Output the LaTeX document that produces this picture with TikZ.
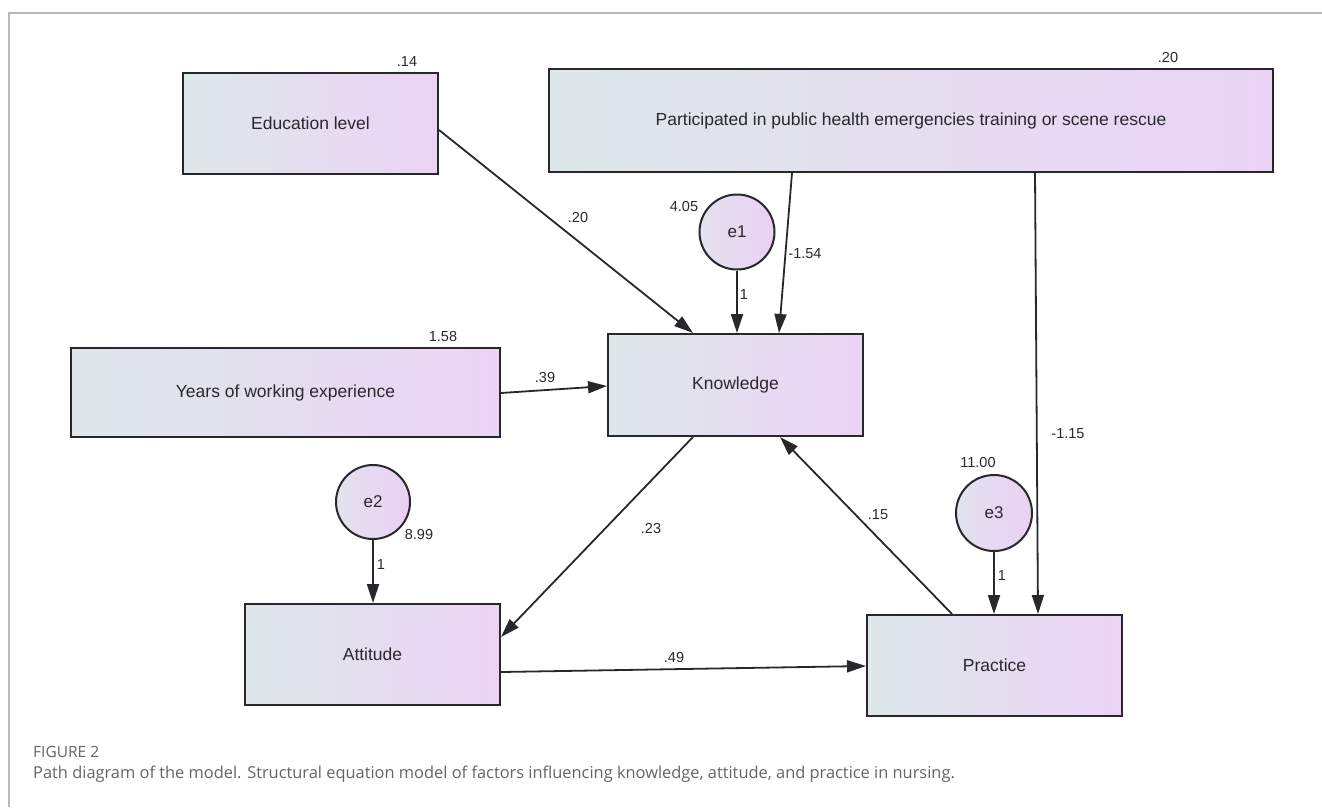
\documentclass[tikz,border=0pt]{standalone}
\usepackage{fontspec}
\setmainfont{Liberation Sans}
\newfontfamily\capfont{Open Sans}
\usetikzlibrary{arrows.meta,calc}
\definecolor{boxL}{RGB}{222,232,234}
\definecolor{boxR}{RGB}{235,211,245}
\definecolor{cirL}{RGB}{226,226,238}
\definecolor{cirR}{RGB}{234,208,244}
\definecolor{edgeC}{RGB}{40,40,44}
\definecolor{txtC}{RGB}{40,40,45}
\definecolor{frameC}{RGB}{185,185,185}
\definecolor{capC}{RGB}{100,100,100}
\tikzset{
  varbox/.style={draw=edgeC, line width=2pt, rectangle, left color=boxL, right color=boxR,
    inner sep=0pt, font=\fontsize{17.5}{20}\selectfont, text=txtC},
  errc/.style={draw=edgeC, line width=2pt, circle, left color=cirL, right color=cirR,
    inner sep=0pt, font=\fontsize{17}{19}\selectfont, text=txtC},
  path/.style={draw=edgeC, line width=1.8pt, -{Triangle[length=19pt,width=12pt]}},
  num/.style={inner sep=0pt, font=\fontsize{14.5}{16}\selectfont, text=txtC},
}
\begin{document}
\begin{tikzpicture}[x=1pt,y=-1pt]
\useasboundingbox (0,0) rectangle (1322,807);
% frame
\draw[frameC, line width=1.5pt] (9,807) -- (9,13) -- (1322,13);

% variable boxes
\node[varbox, minimum width=255pt, minimum height=101pt] (edu) at (310.5,123.5) {Education level};
\node[varbox, minimum width=724pt, minimum height=103pt] (part) at (911,120.5) {Participated in public health emergencies training or scene rescue};
\node[varbox, minimum width=255pt, minimum height=102pt] (know) at (735.5,385) {Knowledge};
\node[varbox, minimum width=429pt, minimum height=89pt] (years) at (285.5,392.5) {Years of working experience};
\node[varbox, minimum width=255pt, minimum height=101pt] (att) at (372.5,654.5) {Attitude};
\node[varbox, minimum width=255pt, minimum height=101pt] (prac) at (994.5,665.5) {Practice};

% error terms
\node[errc, minimum size=75pt] (e1) at (737,232) {e1};
\node[errc, minimum size=74pt] (e2) at (373,502) {e2};
\node[errc, minimum size=76pt] (e3) at (994,513) {e3};

% paths
\draw[path] ([yshift=-6.5pt]edu.east) -- ([xshift=-42.5pt]know.north);
\draw[path] ([xshift=-119pt]part.south) -- ([xshift=43.5pt]know.north);
\draw[path] (e1.south) -- (e1.south |- know.north);
\draw[path] ([yshift=-0.5pt]years.east) -- ([yshift=-1pt]know.west);
\draw[path] ([xshift=-42.5pt]know.south) -- ([yshift=17.5pt]att.east);
\draw[path] ([xshift=-42.5pt]prac.north) -- ([xshift=44.5pt]know.south);
\draw[path] ([yshift=-17.5pt]att.east) -- ([yshift=-0.5pt]prac.west);
\draw[path] (e2.south) -- (e2.south |- att.north);
\draw[path] (e3.south) -- (e3.south |- prac.north);
\draw[path] ([xshift=124pt]part.south) -- ([xshift=43.5pt]prac.north);

% path coefficients
\node[num] (l20) at (578,218) {.20};
\node[num] (l154) at (805,254) {-1.54};
\node[num] (l1a) at (744,295) {1};
\node[num] (l39) at (545,377) {.39};
\node[num] (l23) at (651,528) {.23};
\node[num] (l15) at (878,515) {.15};
\node[num] (l115) at (1068,434) {-1.15};
\node[num] (l49) at (674,657) {.49};
\node[num] (l1b) at (381,564) {1};
\node[num] (l1c) at (1002,575) {1};

% variances / R2
\node[num] (v14) at (407,62) {.14};
\node[num] (v20) at (1168,58) {.20};
\node[num] (v158) at (443,336) {1.58};
\node[num] (v405) at (684,207) {4.05};
\node[num] (v899) at (419,534) {8.99};
\node[num] (v1100) at (978,462) {11.00};

% caption
\node[anchor=base west, inner sep=0pt, font=\capfont\fontsize{15.5}{16}\selectfont, text=capC] (figlab) at (33,757) {FIGURE 2};
\node[anchor=base west, inner sep=0pt, font=\capfont\fontsize{16.4}{19}\selectfont, text=capC] (cap) at (33,778) {Path diagram of the model. Structural equation model of factors influencing knowledge, attitude, and practice in nursing.};
\end{tikzpicture}
\end{document}
